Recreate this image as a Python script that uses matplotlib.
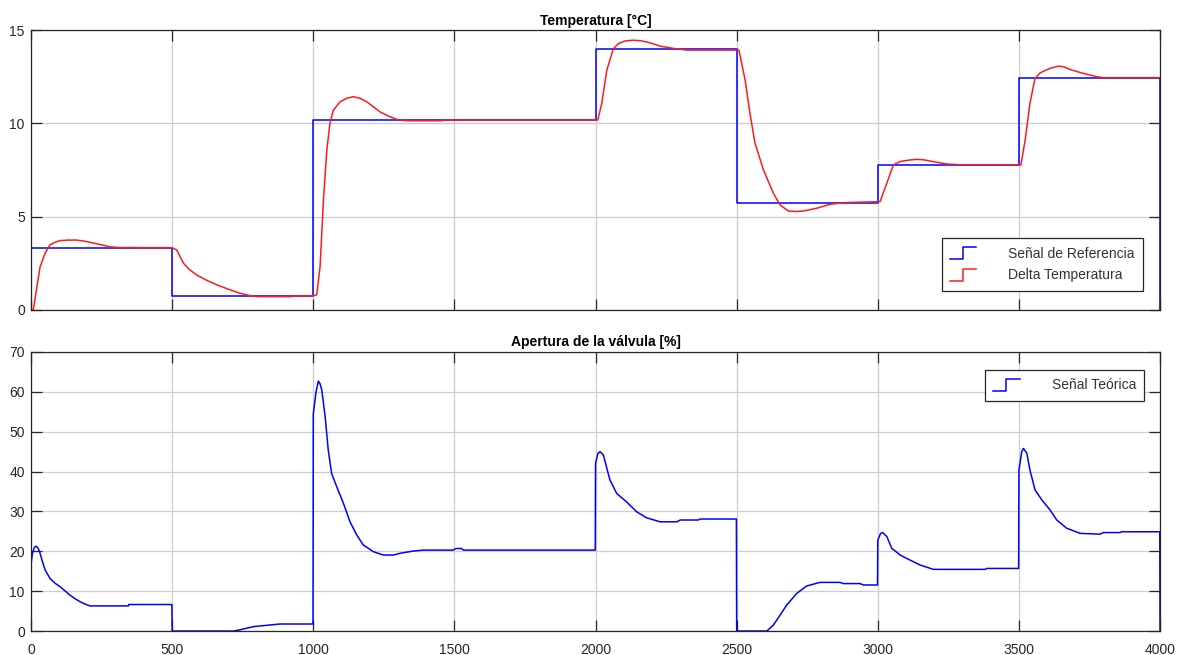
import matplotlib
matplotlib.use("Agg")
import matplotlib.pyplot as plt
from matplotlib.legend_handler import HandlerBase
from matplotlib.lines import Line2D

plt.rcParams['font.family'] = ['Liberation Sans', 'DejaVu Sans']

# reference set-point (stairs)
ref_t = [0, 500, 1000, 2000, 2500, 3000, 3500, 4000]
ref_v = [3.33, 0.75, 10.2, 14.0, 5.75, 7.78, 12.45, 0]

# measured delta temperature
temp_t = [0, 8, 32, 50, 67, 85, 103, 130, 162, 190, 221, 250, 280, 310, 500,
          516, 540, 560, 587, 620, 658, 700, 740, 776, 800, 924, 935, 1000,
          1012, 1024, 1036, 1048, 1059, 1071, 1095, 1120, 1142, 1165, 1189,
          1212, 1236, 1265, 1296, 1330, 1455, 1470, 2008,
          2022, 2040, 2063, 2081, 2105, 2134, 2160, 2181, 2205, 2229, 2276,
          2323, 2508,
          2530, 2547, 2565, 2595, 2630, 2654, 2683, 2710, 2737, 2760, 2784,
          2831, 2870, 2902, 3008,
          3032, 3055, 3079, 3110, 3138, 3160, 3185, 3244, 3303, 3507,
          3522, 3539, 3557, 3575, 3610, 3640, 3660, 3681, 3728, 3776, 3800, 4000]
temp_v = [0, 0, 2.3, 3.04, 3.48, 3.62, 3.71, 3.74, 3.74, 3.68, 3.58, 3.48, 3.38, 3.34, 3.33,
          3.21, 2.5, 2.17, 1.87, 1.6, 1.34, 1.1, 0.89, 0.76, 0.71, 0.71, 0.75, 0.75,
          0.8, 2.3, 5.9, 8.57, 10.0, 10.71, 11.16, 11.35, 11.43, 11.35, 11.16,
          10.9, 10.62, 10.4, 10.21, 10.14, 10.14, 10.18, 10.18,
          11.07, 12.86, 14.0, 14.28, 14.42, 14.46, 14.43, 14.37, 14.26, 14.14, 14.02,
          13.93, 13.93,
          12.32, 10.54, 8.93, 7.5, 6.25, 5.62, 5.3, 5.27, 5.3, 5.37, 5.45,
          5.66, 5.73, 5.76, 5.8,
          6.79, 7.77, 7.95, 8.03, 8.07, 8.05, 7.98, 7.82, 7.77, 7.77,
          9.1, 11.07, 12.41, 12.71, 12.95, 13.07, 13.03, 12.89, 12.68, 12.5, 12.45, 12.45]

# valve opening
valve_t = [0, 5, 12, 18, 25, 32, 40, 50, 67, 85, 103, 120, 138, 156, 174, 190, 209,
           345, 346, 499, 500, 717, 740, 764, 788, 823, 882, 999,
           1000, 1010, 1018, 1024, 1030, 1042, 1053, 1065, 1083, 1107, 1130, 1154,
           1177, 1213, 1248, 1284, 1307, 1355, 1390, 1496, 1505, 1525, 1532, 1999,
           2000, 2008, 2016, 2028, 2040, 2051, 2075, 2110, 2146, 2181, 2229, 2288,
           2300, 2364, 2370, 2499, 2500, 2607, 2630, 2654, 2677, 2713, 2748, 2795,
           2866, 2878, 2937, 2949, 2999,
           3000, 3010, 3017, 3032, 3049, 3079, 3114, 3150, 3197, 3380, 3386, 3499,
           3500, 3510, 3516, 3528, 3539, 3557, 3581, 3610, 3634, 3669, 3717, 3787,
           3799, 3858, 3864, 3999, 4000]
valve_v = [16.8, 19.5, 21.0, 21.3, 20.8, 19.5, 17.5, 15.3, 13.2, 12.0, 11.1, 10.1, 9.0, 8.1, 7.35, 6.8, 6.3,
           6.3, 6.65, 6.65, 0, 0, 0.3, 0.7, 1.1, 1.35, 1.76, 1.76,
           54.5, 60.1, 62.7, 62.0, 60.5, 53.8, 45.4, 39.5, 36.2, 32.0, 27.4, 24.1,
           21.6, 19.9, 19.07, 19.07, 19.5, 20.07, 20.3, 20.3, 20.7, 20.7, 20.3, 20.3,
           42.0, 44.5, 45.0, 44.15, 40.8, 37.9, 34.5, 32.4, 29.9, 28.4, 27.4, 27.4,
           27.85, 27.85, 28.1, 28.1, 0, 0, 1.5, 4.0, 6.5, 9.45, 11.3, 12.2,
           12.2, 11.9, 11.9, 11.55, 11.55,
           22.8, 24.5, 24.7, 23.7, 20.8, 19.07, 17.8, 16.56, 15.47, 15.47, 15.7, 15.7,
           40.4, 45.0, 45.8, 44.6, 40.4, 35.4, 32.9, 30.4, 27.85, 25.8, 24.5, 24.3,
           24.7, 24.7, 24.9, 24.9, 0]


class StairsHandler(HandlerBase):
    # little stair icon for the legend entries
    def create_artists(self, legend, orig_handle, xdescent, ydescent,
                       width, height, fontsize, trans):
        x0, x1 = -xdescent, -xdescent + width
        xm = x0 + 0.5 * width
        y0 = -ydescent - 0.12 * height
        y1 = -ydescent + 1.12 * height
        ln = Line2D([x0, xm, xm, x1], [y0, y0, y1, y1],
                    color=orig_handle.get_color(), lw=orig_handle.get_linewidth())
        ln.set_transform(trans)
        return [ln]


dark = '#262626'

def style_axes(ax):
    ax.grid(True, color='#cdcdcd', lw=0.9)
    ax.set_axisbelow(True)
    ax.tick_params(direction='in', length=8, width=0.9, top=True, right=True,
                   colors=dark, labelsize=10)
    ax.tick_params(axis='x', pad=8.5)
    ax.tick_params(axis='y', pad=4.5)
    for s in ax.spines.values():
        s.set_color(dark)
        s.set_linewidth(0.9)


def add_legend(ax, handles, labels, **kw):
    leg = ax.legend(handles, labels, handler_map={Line2D: StairsHandler()},
                    borderaxespad=0, fontsize=10, fancybox=False, framealpha=1,
                    edgecolor=dark, handlelength=1.9, handletextpad=2.3,
                    labelspacing=0.55, borderpad=0.6, **kw)
    leg.get_frame().set_linewidth(0.9)
    for t in leg.get_texts():
        t.set_color('#333333')
    return leg


fig = plt.figure(figsize=(11.8, 6.55), dpi=100)
ax1 = fig.add_axes([0.0263, 0.527, 0.9568, 0.427])
ax2 = fig.add_axes([0.0263, 0.0366, 0.9568, 0.426])

l_ref, = ax1.plot(ref_t, ref_v, color='#0000ff', lw=1.1, drawstyle='steps-post')
l_tmp, = ax1.plot(temp_t, temp_v, color='#ff1a1a', lw=1.1)
ax1.set_xlim(0, 4000)
ax1.set_ylim(0, 15)
ax1.set_xticks(range(0, 4001, 500))
ax1.set_yticks([0, 5, 10, 15])
style_axes(ax1)
ax1.tick_params(labelbottom=False)
ax1.set_title('Temperatura [°C]', fontsize=10, fontweight='bold', pad=4, color='black')
add_legend(ax1, [l_ref, l_tmp], ['Señal de Referencia', 'Delta Temperatura'],
           loc='lower right', bbox_to_anchor=(0.985, 0.068))

l_val, = ax2.plot(valve_t, valve_v, color='#0000ff', lw=1.1)
ax2.set_xlim(0, 4000)
ax2.set_ylim(0, 70)
ax2.set_xticks(range(0, 4001, 500))
ax2.set_yticks(range(0, 71, 10))
style_axes(ax2)
ax2.set_title('Apertura de la válvula [%]', fontsize=10, fontweight='bold', pad=4, color='black')
add_legend(ax2, [l_val], ['Señal Teórica'],
           loc='upper right', bbox_to_anchor=(0.986, 0.935))

fig.savefig('out.png', dpi=100)
